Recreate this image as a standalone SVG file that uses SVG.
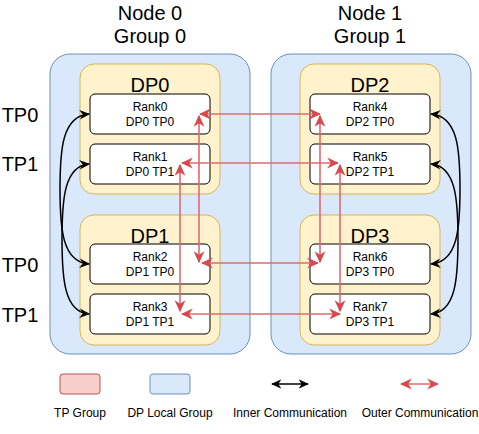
<svg xmlns="http://www.w3.org/2000/svg" width="479" height="434" viewBox="0 0 479 434">
<defs>
<style>
text{font-family:"Liberation Sans",Arial,sans-serif;fill:#000;text-anchor:middle}
.big{font-size:20px}
.sm{font-size:12px}
.node{fill:#dae8fc;stroke:#6c8ebf;stroke-width:1}
.dp{fill:#fff2cc;stroke:#d6b656;stroke-width:1}
.rank{fill:#fff;stroke:#000;stroke-width:1}
.inner{fill:none;stroke:#000;stroke-width:1.5}
.outer{fill:none;stroke:#e06a6e;stroke-width:1.6}
</style>
<marker id="bk" viewBox="0 0 10 10" refX="9" refY="5" markerWidth="7" markerHeight="7" orient="auto-start-reverse" markerUnits="strokeWidth">
<path d="M0,0.5 L10,5 L0,9.5 L3,5 z" fill="#000"/>
</marker>
<marker id="rd" viewBox="0 0 10 10" refX="9" refY="5" markerWidth="7.5" markerHeight="7.5" orient="auto-start-reverse" markerUnits="strokeWidth">
<path d="M0,0.5 L10,5 L0,9.5 L3,5 z" fill="#d9474f"/>
</marker>
</defs>
<rect width="479" height="434" fill="#fff"/>

<g id="node0">
<rect class="node" x="50" y="54" width="200" height="300" rx="20"/>
<text class="big" x="150" y="20">Node 0</text>
<text class="big" x="150" y="43">Group 0</text>
</g>
<g id="node1">
<rect class="node" x="271" y="54" width="200" height="300" rx="20"/>
<text class="big" x="370" y="20">Node 1</text>
<text class="big" x="370" y="43">Group 1</text>
</g>

<g id="dp0"><rect class="dp" x="80" y="64" width="140" height="130" rx="14"/><text class="big" x="150" y="92">DP0</text></g>
<g id="dp1"><rect class="dp" x="80" y="215" width="140" height="130" rx="14"/><text class="big" x="150" y="243">DP1</text></g>
<g id="dp2"><rect class="dp" x="300" y="64" width="140" height="130" rx="14"/><text class="big" x="370" y="92">DP2</text></g>
<g id="dp3"><rect class="dp" x="300" y="215" width="140" height="130" rx="14"/><text class="big" x="370" y="243">DP3</text></g>

<g id="rank0"><rect class="rank" x="90" y="94" width="120" height="40" rx="5"/><text class="sm" x="150" y="111">Rank0</text><text class="sm" x="150" y="126">DP0 TP0</text></g>
<g id="rank1"><rect class="rank" x="90" y="144" width="120" height="40" rx="5"/><text class="sm" x="150" y="161">Rank1</text><text class="sm" x="150" y="176">DP0 TP1</text></g>
<g id="rank2"><rect class="rank" x="90" y="244" width="120" height="40" rx="5"/><text class="sm" x="150" y="261">Rank2</text><text class="sm" x="150" y="276">DP1 TP0</text></g>
<g id="rank3"><rect class="rank" x="90" y="294" width="120" height="40" rx="5"/><text class="sm" x="150" y="311">Rank3</text><text class="sm" x="150" y="326">DP1 TP1</text></g>
<g id="rank4"><rect class="rank" x="310" y="94" width="120" height="40" rx="5"/><text class="sm" x="370" y="111">Rank4</text><text class="sm" x="370" y="126">DP2 TP0</text></g>
<g id="rank5"><rect class="rank" x="310" y="144" width="120" height="40" rx="5"/><text class="sm" x="370" y="161">Rank5</text><text class="sm" x="370" y="176">DP2 TP1</text></g>
<g id="rank6"><rect class="rank" x="310" y="244" width="120" height="40" rx="5"/><text class="sm" x="370" y="261">Rank6</text><text class="sm" x="370" y="276">DP3 TP0</text></g>
<g id="rank7"><rect class="rank" x="310" y="294" width="120" height="40" rx="5"/><text class="sm" x="370" y="311">Rank7</text><text class="sm" x="370" y="326">DP3 TP1</text></g>

<g id="tplabels">
<text class="big" x="20" y="122">TP0</text>
<text class="big" x="20" y="171">TP1</text>
<text class="big" x="20" y="272">TP0</text>
<text class="big" x="20" y="322">TP1</text>
</g>

<g id="connectors">
<path class="inner" d="M89,114 C62,116 60,150 60,189 C60,228 62,262 89,264" marker-start="url(#bk)" marker-end="url(#bk)"/>
<path class="inner" d="M89,164 C64,166 62,200 62,239 C62,278 64,312 89,314" marker-start="url(#bk)" marker-end="url(#bk)"/>
<path class="inner" d="M431,114 C458,116 460,150 460,189 C460,228 458,262 431,264" marker-start="url(#bk)" marker-end="url(#bk)"/>
<path class="inner" d="M431,164 C456,166 458,200 458,239 C458,278 456,312 431,314" marker-start="url(#bk)" marker-end="url(#bk)"/>

<path class="outer" d="M200,114 L320,114" marker-start="url(#rd)" marker-end="url(#rd)"/>
<path class="outer" d="M199,116 L199,262" marker-start="url(#rd)" marker-end="url(#rd)"/>
<path class="outer" d="M182,163 L338,163" marker-start="url(#rd)" marker-end="url(#rd)"/>
<path class="outer" d="M180,165 L180,311" marker-start="url(#rd)" marker-end="url(#rd)"/>
<path class="outer" d="M202,263 L318,263" marker-start="url(#rd)" marker-end="url(#rd)"/>
<path class="outer" d="M320,116 L320,262" marker-start="url(#rd)" marker-end="url(#rd)"/>
<path class="outer" d="M182,314 L340,314" marker-start="url(#rd)" marker-end="url(#rd)"/>
<path class="outer" d="M340,165 L340,311" marker-start="url(#rd)" marker-end="url(#rd)"/>
</g>

<g id="legend">
<rect x="60" y="374" width="40" height="20" rx="3" fill="#f8cecc" stroke="#b85450"/>
<rect x="150" y="374" width="40" height="20" rx="3" fill="#dae8fc" stroke="#6c8ebf"/>
<path class="inner" d="M272,384 L308,384" marker-start="url(#bk)" marker-end="url(#bk)"/>
<path class="outer" d="M401,384 L438,384" marker-start="url(#rd)" marker-end="url(#rd)"/>
<text class="sm" x="80" y="417">TP Group</text>
<text class="sm" x="170" y="417">DP Local Group</text>
<text class="sm" x="290" y="417">Inner Communication</text>
<text class="sm" x="420" y="417">Outer Communication</text>
</g>
</svg>
